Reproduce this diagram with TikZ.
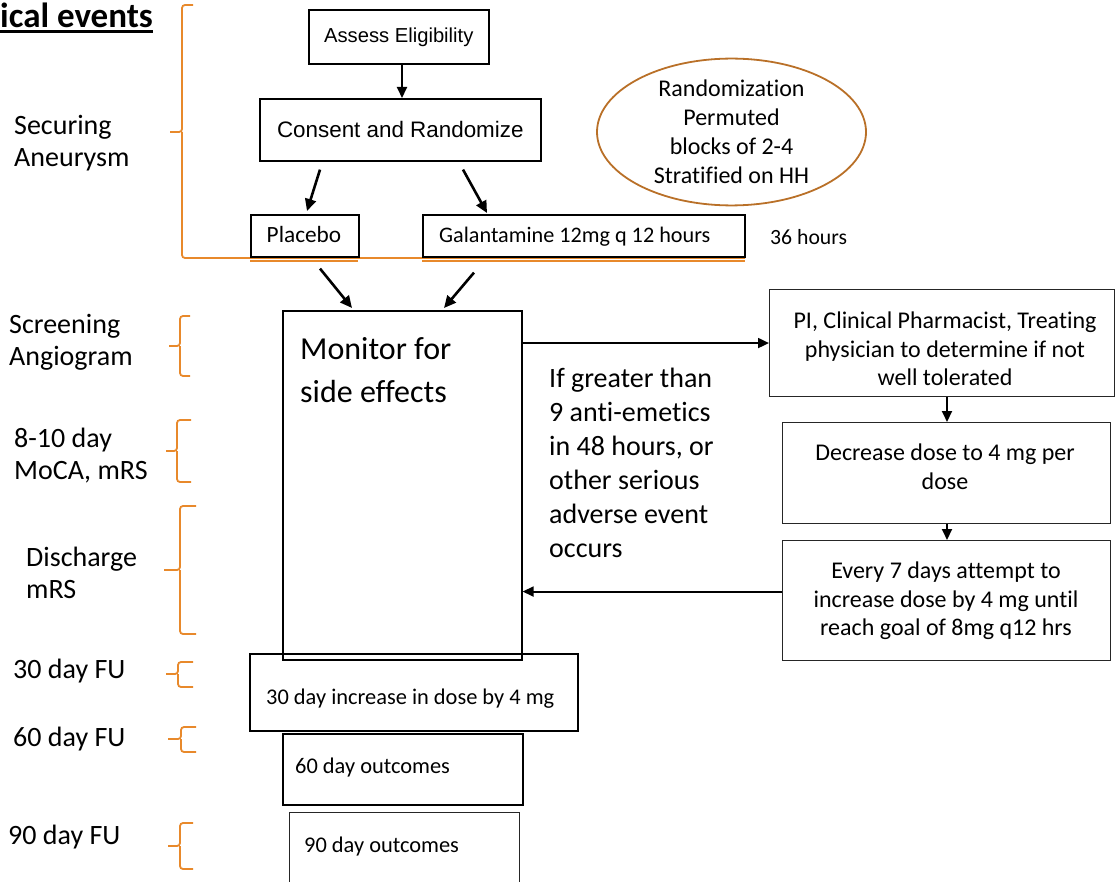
\documentclass[tikz,border=0pt]{standalone}
\usepackage{fontspec}
\setmainfont{Carlito}[Ligatures=NoCommon]
\newfontfamily\arialf{Liberation Sans}
\usetikzlibrary{arrows.meta,shapes.geometric,calc}
\definecolor{braceorange}{RGB}{232,137,43}
\definecolor{ellbrown}{RGB}{185,112,40}
\newcommand\mybrace[6]{\draw[brace] (#1,#3) -- (#2,#3) -- (#2,#4) -- (#5,#4) (#2,#4) -- (#2,#6) -- (#1,#6);}
\begin{document}
\begin{tikzpicture}[x=1pt,y=-1pt,
  box/.style={draw=black, line width=1.6pt, inner sep=0pt, anchor=north west},
  thinbox/.style={draw=black!85, line width=1.1pt, inner sep=0pt, anchor=north west},
  arr/.style={line width=2.6pt, -{Triangle[length=12pt,width=11pt]}},
  harr/.style={line width=1.9pt, -{Triangle[length=11pt,width=10pt]}},
  brace/.style={draw=braceorange, line width=1.8pt, rounded corners=3pt},
  lbl/.style={anchor=north west, align=left, inner sep=0pt, font=\fontsize{28}{32}\selectfont},
  small/.style={inner sep=0pt, font=\fontsize{22.4}{26}\selectfont},
  rtext/.style={anchor=north, align=center, inner sep=0pt, font=\fontsize{24}{28.3}\selectfont},
  ]
\useasboundingbox (0,0) rectangle (1115,882);

% title
\node[anchor=base west, inner sep=0pt, font=\bfseries\fontsize{35}{40}\selectfont] (title) at (0,28) {ical events};
\draw[line width=2.8pt] ($(title.base west)+(0,3.5)$) -- ($(title.base east)+(0,3.5)$);

% left labels
\node[lbl] (l1) at (14,115) {Securing\\Aneurysm};
\node[lbl] (l2) at (9,314) {Screening\\Angiogram};
\node[lbl] (l3) at (14,428) {8-10 day\\MoCA, mRS};
\node[lbl] (l4) at (26,547) {Discharge\\mRS};
\node[lbl] (l5) at (13,659) {30 day FU};
\node[lbl] (l6) at (13,727) {60 day FU};
\node[lbl] (l7) at (8,825) {90 day FU};

% braces
\draw[brace] (193,5) -- (182,5) -- (182,132) -- (170,132) (182,132) -- (182,258) -- (745,258);
\draw[draw=braceorange, line width=2pt] (250,261.5) -- (358,261.5) (422,261.5) -- (745,261.5);
\mybrace{190}{180}{316}{346}{169}{376}
\mybrace{191}{177}{420}{451}{166}{482}
\mybrace{196}{180}{506}{570}{164}{634}
\mybrace{193}{178}{662}{674}{166}{687}
\mybrace{196}{181}{727}{739}{168}{752}
\mybrace{193}{180}{823}{846}{168}{869}

% top boxes
\node[box, minimum width=180, minimum height=54, font=\arialf\fontsize{20.2}{24}\selectfont] (assess) at (308,9) {Assess Eligibility};
\node[box, minimum width=281, minimum height=62, font=\arialf\fontsize{22.4}{26}\selectfont] (consent) at (259,98) {Consent and Randomize};
\node[box, minimum width=108, minimum height=42] (placebo) at (250,214) {};
\node[inner sep=0pt, anchor=base, font=\fontsize{23.3}{26}\selectfont] (placebot) at (304,243) {Placebo};
\node[box, minimum width=322, minimum height=42] (galan) at (422,214) {};
\node[inner sep=0pt, anchor=base west, font=\fontsize{22.2}{26}\selectfont] (galant) at (439,243) {Galantamine 12mg q 12 hours};

\node[ellipse, draw=ellbrown, line width=1.8pt, minimum width=269, minimum height=141, inner sep=0pt, align=center, font=\fontsize{24}{29}\selectfont] (rand) at (731.5,132) {Randomization\\Permuted\\blocks of 2-4\\Stratified on HH};

\node[anchor=base west, inner sep=0pt, font=\fontsize{21.7}{24}\selectfont] (hrs) at (770,245) {36 hours};

% monitor
\node[box, minimum width=239, minimum height=349] (mon) at (282,310) {};
\node[anchor=north west, align=left, inner sep=0pt, font=\fontsize{32}{43}\selectfont] (montext) at (300,337) {Monitor for\\side effects};
\node[anchor=north west, align=left, inner sep=0pt, font=\fontsize{28}{34}\selectfont] (cond) at (549,368) {If greater than\\9 anti-emetics\\in 48 hours, or\\other serious\\adverse event\\occurs};

% bottom boxes
\node[box, minimum width=328, minimum height=77] (thirty) at (249,653) {};
\node[small, anchor=base west] (thirtyt) at (266,704) {30 day increase in dose by 4 mg};
\node[box, minimum width=240, minimum height=71] (sixty) at (282,733) {};
\node[small, anchor=base west] (sixtyt) at (295,773) {60 day outcomes};
\node[thinbox, minimum width=230, minimum height=90] (ninety) at (289,812) {};
\node[small, anchor=base west] (ninetyt) at (304,852) {90 day outcomes};

% right boxes
\node[thinbox, minimum width=345, minimum height=107] (pi) at (769,289) {};
\node[rtext] (pit) at (945,312) {PI, Clinical Pharmacist, Treating\\physician to determine if not\\well tolerated};
\node[thinbox, minimum width=328, minimum height=101] (dec) at (782,422) {};
\node[rtext] (dect) at (945,444) {Decrease dose to 4 mg per\\dose};
\node[thinbox, minimum width=328, minimum height=120] (every) at (782,540) {};
\node[rtext] (everyt) at (946,562) {Every 7 days attempt to\\increase dose by 4 mg until\\reach goal of 8mg q12 hrs};

% connectors
\draw[harr] (assess.south -| 402,0) -- (402,0 |- consent.north);
\draw[arr] ($(consent.south west)+(61,8)$) -- ($(placebo.north west)+(57,-3)$);
\draw[arr] ($(consent.south west)+(204,8)$) -- ($(galan.north west)+(65,-1)$);
\draw[arr] ($(placebo.south west)+(70,11)$) -- ($(mon.north west)+(70,-2)$);
\draw[arr] ($(galan.south west)+(52,15)$) -- ($(mon.north west)+(162,-2)$);
\draw[harr] (mon.east |- pi.west) -- (pi.west);
\draw[harr] (947,0 |- pi.south) -- (947,0 |- dec.north);
\draw[harr] (947,0 |- dec.south) -- (947,0 |- every.north);
\coordinate (backstart) at ($(every.west)+(0,-9)$);
\draw[harr] (backstart) -- (backstart -| mon.east);
\end{tikzpicture}
\end{document}
